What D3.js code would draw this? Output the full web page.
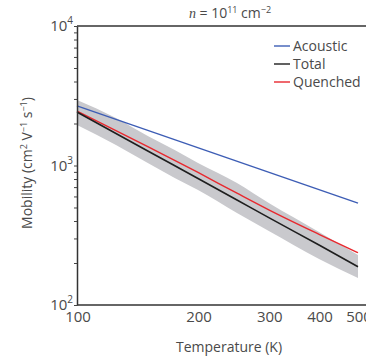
<!DOCTYPE html>
<html><head><meta charset="utf-8">
<script src="https://cdn.jsdelivr.net/npm/d3@7"></script>
<style>
body{margin:0;background:#fff;}
text{font-family:"Open Sans","Noto Sans",sans-serif;fill:#4a4a4a;}
</style></head>
<body><svg id="c" width="366" height="359"></svg>
<script>
const acousticT = [100, 500];
const acousticV = [2672, 538];
const totalT = [100, 150, 200, 250, 300, 400, 500];
const totalV = [2418, 1270, 807, 566, 423, 269, 188];
const quenchedT = [100, 150, 200, 250, 300, 400, 500];
const quenchedV = [2458, 1368, 891, 633, 481, 321, 237];
const bandT = [100, 125, 150, 175, 200, 250, 300, 400, 500];
const bandUpper = [2948, 2190, 1627, 1291, 1042, 749, 538, 334, 228];
const bandLower = [1951, 1403, 1042, 813, 667, 456, 339, 214, 156];
const xTicks = [100, 200, 300, 400, 500];
const yMajor = [100, 1000, 10000];
const yExp = ["2", "3", "4"];
const legendNames = ["Acoustic", "Total", "Quenched"];
const legendColors = ["#3d5db5", "#1e1e1e", "#e8282e"];

const svg = d3.select("#c");
const L = 77, R = 358, T = 26, B = 305;
const x = d3.scaleLog().domain([100, 500]).range([L, R]);
const y = d3.scaleLog().domain([100, 10000]).range([B, T]);

// band
const area = d3.area().x(d=>x(d[0])).y0(d=>y(d[2])).y1(d=>y(d[1])).curve(d3.curveMonotoneX);
svg.append("path").datum(bandT.map((t,i)=>[t, bandUpper[i], bandLower[i]]))
  .attr("d", area).attr("fill", "#c9c9cd");

const line = d3.line().x(d=>x(d[0])).y(d=>y(d[1])).curve(d3.curveMonotoneX);
svg.append("path").datum(acousticT.map((t,i)=>[t, acousticV[i]]))
  .attr("d", line).attr("fill","none").attr("stroke", legendColors[0]).attr("stroke-width",1.4);
svg.append("path").datum(quenchedT.map((t,i)=>[t, quenchedV[i]]))
  .attr("d", line).attr("fill","none").attr("stroke", legendColors[2]).attr("stroke-width",1.4);
svg.append("path").datum(totalT.map((t,i)=>[t, totalV[i]]))
  .attr("d", line).attr("fill","none").attr("stroke", legendColors[1]).attr("stroke-width",1.6);

// frame top line
svg.append("line").attr("x1", L).attr("x2", 366).attr("y1", T).attr("y2", T).attr("stroke","#333").attr("stroke-width",1.5);

// y axis
const minor = [];
for (const m of [100, 1000]) for (let k=2;k<=9;k++) minor.push(m*k);
const yAxis = d3.axisLeft(y).tickValues(yMajor.concat(minor)).tickFormat("")
  .tickSize(3).tickSizeOuter(0);
const gy = svg.append("g").attr("transform", `translate(${L},0)`).call(yAxis);
gy.selectAll("line").attr("stroke","#444");
gy.select(".domain").attr("stroke","#333").attr("stroke-width",1.5);
yMajor.forEach((v,i)=>{
  const t = svg.append("text").attr("x", L-4).attr("y", y(v)+5).attr("text-anchor","end").style("font-size","15px");
  t.append("tspan").text("10");
  t.append("tspan").attr("dy",-7).style("font-size","10px").text(yExp[i]);
});

// x axis
const xAxis = d3.axisBottom(x).tickValues(xTicks).tickFormat("").tickSize(0).tickSizeOuter(0);
const gx = svg.append("g").attr("transform", `translate(0,${B})`).call(xAxis);
gx.select(".domain").attr("stroke","#333").attr("stroke-width",1.5).attr("d", `M${L},0H366`);
xTicks.forEach(v=>{
  svg.append("text").attr("x", x(v)+1).attr("y", B+17).attr("text-anchor","middle").style("font-size","15px").text(v);
});

// axis titles
svg.append("text").attr("x", 229).attr("y", 352).attr("text-anchor","middle").style("font-size","14px").text("Temperature (K)");
const yl = svg.append("text").attr("transform","translate(32,163) rotate(-90)").attr("text-anchor","middle").style("font-size","14px");
yl.append("tspan").text("Mobility (cm");
yl.append("tspan").attr("dy",-5).style("font-size","9px").text("2");
yl.append("tspan").attr("dy",5).text(" V");
yl.append("tspan").attr("dy",-5).style("font-size","9px").text("−1");
yl.append("tspan").attr("dy",5).text(" s");
yl.append("tspan").attr("dy",-5).style("font-size","9px").text("−1");
yl.append("tspan").attr("dy",5).text(")");

// title
const tt = svg.append("text").attr("x", 230).attr("y", 18).attr("text-anchor","middle").style("font-size","14px");
tt.append("tspan").style("font-family","'Liberation Serif',serif").style("font-style","italic").text("n");
tt.append("tspan").text(" = 10");
tt.append("tspan").attr("dy",-5).style("font-size","9px").text("11");
tt.append("tspan").attr("dy",5).text(" cm");
tt.append("tspan").attr("dy",-5).style("font-size","9px").text("−2");

// legend
legendNames.forEach((n,i)=>{
  const yy = 46 + i*18;
  svg.append("line").attr("x1",274).attr("x2",290).attr("y1",yy).attr("y2",yy).attr("stroke",legendColors[i]).attr("stroke-width",1.4);
  svg.append("text").attr("x",293).attr("y",yy+5).style("font-size","14px").text(n);
});
</script></body></html>
